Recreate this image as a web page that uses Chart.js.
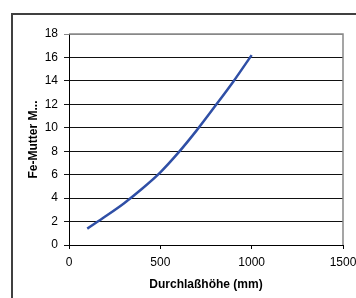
<!DOCTYPE html>
<html><head><meta charset="utf-8">
<script src="https://cdn.jsdelivr.net/npm/chart.js@4/dist/chart.umd.min.js"></script>
<style>html,body{margin:0;padding:0;background:#fff}#c{display:block}</style>
</head><body>
<canvas id="c" width="356" height="298"></canvas>
<script>
const xValues = [100, 200, 300, 400, 500, 600, 700, 800, 900, 1000];
const yValues = [1.4, 2.45, 3.55, 4.8, 6.2, 7.9, 9.8, 11.85, 13.95, 16.2];
const xTitle = 'Durchlaßhöhe (mm)';
const yTitle = 'Fe-Mutter M...';

const frame = {
  id: 'frame',
  beforeDraw(chart) {
    const ctx = chart.ctx;
    ctx.save();
    ctx.strokeStyle = '#404040';
    ctx.lineWidth = 2;
    ctx.strokeRect(12, 14, 400, 400);
    ctx.restore();
  },
  afterDatasetsDraw(chart) {
    const {ctx, chartArea: a} = chart;
    ctx.save();
    ctx.strokeStyle = '#888';
    ctx.lineWidth = 1.5;
    ctx.beginPath();
    ctx.moveTo(a.left, a.top);
    ctx.lineTo(a.right, a.top);
    ctx.lineTo(a.right, a.bottom);
    ctx.stroke();
    ctx.restore();
  }
};

new Chart(document.getElementById('c'), {
  type: 'scatter',
  data: {
    datasets: [{
      data: xValues.map((x, i) => ({x, y: yValues[i]})),
      showLine: true,
      borderColor: '#2F4FA6',
      borderWidth: 2.5,
      pointRadius: 0,
      tension: 0.3,
      fill: false
    }]
  },
  options: {
    responsive: false,
    animation: false,
    plugins: { legend: {display: false}, tooltip: {enabled: false} },
    layout: { padding: {top: 34, right: 13, left: 0, bottom: 0} },
    scales: {
      x: {
        type: 'linear', min: 0, max: 1500,
        afterFit(s) { s.height = 53; s.paddingRight = 0; s.paddingLeft = 0; },
        ticks: { stepSize: 500, color: '#000', font: {family: 'Liberation Sans', size: 12}, padding: 6,
                 callback: (v) => String(v) },
        grid: { drawOnChartArea: false, drawTicks: true, tickLength: 4, color: '#000' },
        border: { color: '#000', width: 1 },
        title: { display: true, text: xTitle, color: '#000', font: {family: 'Liberation Sans', size: 12, weight: 'bold'}, padding: {top: 0, bottom: 6} }
      },
      y: {
        min: 0, max: 18,
        afterFit(s) { s.width = 69; s.paddingTop = 0; s.paddingBottom = 0; },
        ticks: { stepSize: 2, color: '#000', font: {family: 'Liberation Sans', size: 12}, padding: 6 },
        grid: { color: (c) => c.index === 9 ? '#888' : '#111', tickLength: 5, lineWidth: 1 },
        border: { color: '#000', width: 1 },
        title: { display: true, text: yTitle, color: '#000', font: {family: 'Liberation Sans', size: 12, weight: 'bold'}, padding: {top: 26, bottom: 0} }
      }
    }
  },
  plugins: [frame]
});
</script>
</body></html>
